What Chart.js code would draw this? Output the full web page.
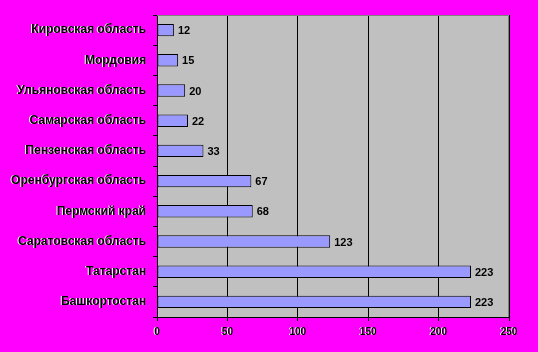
<!DOCTYPE html>
<html>
<head>
<meta charset="utf-8">
<style>
  html, body { margin: 0; padding: 0; background: #ff00ff; }
  #wrap { width: 538px; height: 352px; }
</style>
<script src="https://cdn.jsdelivr.net/npm/chart.js@4/dist/chart.umd.min.js"></script>
</head>
<body>
<div id="wrap"><canvas id="chart" width="538" height="352"></canvas></div>
<script>
const regions = ['Кировская область', 'Мордовия', 'Ульяновская область', 'Самарская область',
  'Пензенская область', 'Оренбургская область', 'Пермский край', 'Саратовская область',
  'Татарстан', 'Башкортостан']
const counts = [12, 15, 20, 22, 33, 67, 68, 123, 223, 223]
const axisMax = 250
const axisStep = 50

// серый фон области построения + рамка
const plotBg = {
  id: 'plotBg',
  beforeDraw(chart) {
    const { ctx, chartArea: a } = chart
    ctx.save()
    ctx.fillStyle = '#c0c0c0'
    ctx.fillRect(a.left, a.top, a.right - a.left, a.bottom - a.top)
    ctx.restore()
  },
  afterDatasetsDraw(chart) {
    const { ctx, chartArea: a } = chart
    ctx.save()
    ctx.strokeStyle = '#808080'
    ctx.lineWidth = 1
    ctx.beginPath()
    ctx.moveTo(a.left, a.top + 0.5)
    ctx.lineTo(a.right - 0.5, a.top + 0.5)
    ctx.lineTo(a.right - 0.5, a.bottom)
    ctx.stroke()
    ctx.restore()
  }
}

// подписи значений у концов столбиков
const valueLabels = {
  id: 'valueLabels',
  afterDatasetsDraw(chart) {
    const { ctx } = chart
    const meta = chart.getDatasetMeta(0)
    ctx.save()
    ctx.font = 'bold 11px "Liberation Sans", Arial, sans-serif'
    ctx.fillStyle = '#000'
    ctx.textBaseline = 'middle'
    ctx.textAlign = 'left'
    meta.data.forEach((bar, i) => {
      ctx.fillText(String(counts[i]), bar.x + 4, bar.y + 1)
    })
    ctx.restore()
  }
}

// белая "тень" слева у подписей осей (они рисуются после столбиков, z = 1)
const axisShadow = {
  id: 'axisShadow',
  afterDatasetsDraw(chart) {
    const { ctx } = chart
    ctx.save()
    ctx.shadowColor = '#ffffff'
    ctx.shadowOffsetX = -1
    ctx.shadowOffsetY = 0
    ctx.shadowBlur = 0
  },
  afterDraw(chart) {
    chart.ctx.restore()
  }
}

const ctx = document.getElementById('chart').getContext('2d')

new Chart(ctx, {
  type: 'bar',
  data: {
    labels: regions,
    datasets: [{
      data: counts,
      backgroundColor: '#9999ff',
      borderColor: '#000',
      borderWidth: 1,
      borderSkipped: false,
      barPercentage: 0.82,
      categoryPercentage: 0.5
    }]
  },
  options: {
    indexAxis: 'y',
    responsive: false,
    animation: false,
    layout: { padding: { left: 0, right: 29, top: 15, bottom: 0 } },
    scales: {
      x: {
        min: 0,
        max: axisMax,
        border: { color: '#000', width: 1 },
        grid: { color: '#000', lineWidth: 1, tickLength: 4, drawTicks: true },
        ticks: {
          z: 1,
          stepSize: axisStep,
          color: '#000',
          padding: 5,
          maxRotation: 0,
          font: { family: '"Liberation Sans", Arial, sans-serif', size: 10, weight: 'bold' }
        },
        afterFit(scale) { scale.height = 35 }
      },
      y: {
        offset: true,
        border: { color: '#000', width: 1 },
        grid: { offset: true, drawOnChartArea: false, color: '#000', tickLength: 4 },
        ticks: {
          z: 1,
          color: '#000',
          padding: 7,
          font: { family: '"Liberation Sans", Arial, sans-serif', size: 12, weight: 'bold' }
        },
        afterFit(scale) { scale.width = 157 }
      }
    },
    plugins: {
      legend: { display: false },
      tooltip: { enabled: false }
    }
  },
  plugins: [plotBg, valueLabels, axisShadow]
})
</script>
</body>
</html>
